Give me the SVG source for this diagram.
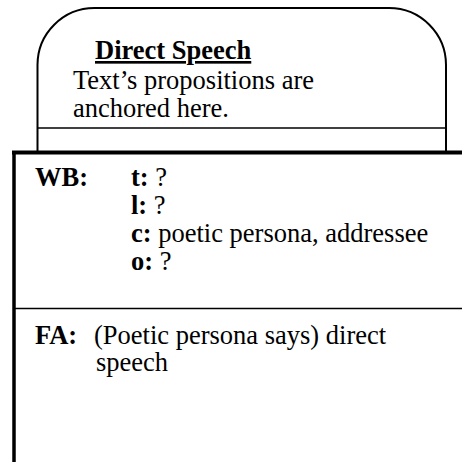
<svg xmlns="http://www.w3.org/2000/svg" width="462" height="462" viewBox="0 0 462 462">
  <style>
    .t { font-family: "Liberation Serif", "Times New Roman", serif; font-size: 26.5px; fill: #000; }
    .b { font-weight: bold; }
    .u { text-decoration: underline; }
    .edge { fill: none; stroke: #000; }
  </style>
  <rect width="462" height="462" fill="#fff"/>

  <!-- Upper rounded panel: Direct Speech -->
  <g id="direct-speech">
    <path class="edge" stroke-width="2" d="M37.5,152 V65 A57,57 0 0 1 94.5,8 H389 A57,57 0 0 1 446,65 V152"/>
    <line class="edge" stroke-width="1.5" x1="37.5" y1="128" x2="446" y2="128"/>
    <text class="t b u" x="95" y="59">Direct Speech</text>
    <text class="t" x="73" y="89">Text’s propositions are</text>
    <text class="t" x="73" y="117">anchored here.</text>
  </g>

  <!-- Lower open panel: WB and FA sections -->
  <g id="world-panel">
    <line class="edge" stroke-width="4" x1="12" y1="152.5" x2="462" y2="152.5"/>
    <line class="edge" stroke-width="3.5" x1="14" y1="151" x2="14" y2="462"/>
    <line class="edge" stroke-width="1.5" x1="14" y1="308.5" x2="462" y2="308.5"/>
  </g>

  <g id="wb">
    <text class="t b" x="35" y="186">WB:</text>
    <text class="t" x="131" y="186"><tspan class="b">t:</tspan> ?</text>
    <text class="t" x="131" y="214"><tspan class="b">l:</tspan> ?</text>
    <text class="t" x="131" y="242"><tspan class="b">c:</tspan> poetic persona, addressee</text>
    <text class="t" x="131" y="270"><tspan class="b">o:</tspan> ?</text>
  </g>

  <g id="fa">
    <text class="t b" x="35" y="344">FA:</text>
    <text class="t" x="94" y="344">(Poetic persona says) direct</text>
    <text class="t" x="96" y="371">speech</text>
  </g>
</svg>
